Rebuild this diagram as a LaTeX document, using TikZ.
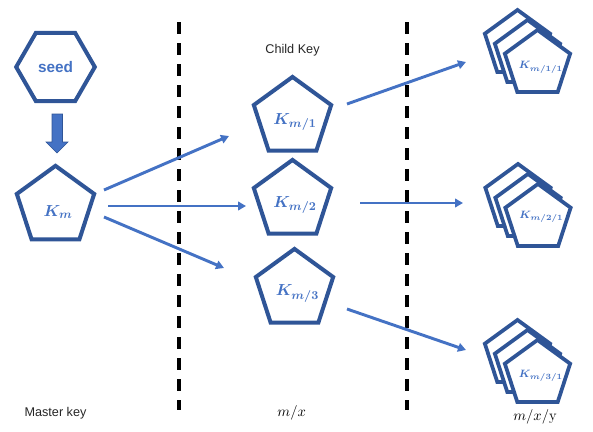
\documentclass[tikz,border=0pt]{standalone}
\usepackage{fontspec}
\newfontfamily\sansf{Liberation Sans}
\usepackage{bm}
\DeclareMathSizes{11.5}{11.5}{8.6}{6.5}
\DeclareMathSizes{8}{8}{6.3}{5}
\usetikzlibrary{shapes.geometric,arrows.meta}
\definecolor{kdark}{HTML}{2F5597}
\definecolor{kblue}{HTML}{4472C4}
\begin{document}
\begin{tikzpicture}[x=0.75pt,y=-0.75pt,
  pent/.style={regular polygon, regular polygon sides=5, draw=kdark, line width=3pt, fill=white, inner sep=0pt, minimum size=61pt},
  spent/.style={regular polygon, regular polygon sides=5, draw=kdark, line width=2.8pt, fill=white, inner sep=0pt, minimum size=51.5pt},
  hexa/.style={regular polygon, regular polygon sides=6, draw=kdark, line width=3pt, fill=white, inner sep=0pt, minimum size=59pt},
  klabel/.style={text=kblue, font=\fontsize{11.5}{13}\selectfont},
  sklabel/.style={text=kblue, font=\fontsize{8}{10}\selectfont},
  conn/.style={kblue, line width=2.2pt, -{Triangle[length=6pt,width=6.5pt]}},
  divider/.style={black, line width=2.4pt, dash pattern=on 9pt off 6.75pt},
  plain/.style={font=\sansf\fontsize{9.5}{11}\selectfont, text=black!85},
  mlabel/.style={font=\fontsize{11}{13}\selectfont, text=black}]
\useasboundingbox (0,0) rectangle (593,432);

% dividers
\coordinate (d1t) at (179,22);
\coordinate (d1b) at (179,410);
\coordinate (d2t) at (407,22);
\coordinate (d2b) at (407,410);
\draw[divider] (d1t) -- (d1b);
\draw[divider] (d2t) -- (d2b);

% seed and master key
\node[hexa, text=kblue, font=\sansf\fontsize{11.5}{13}\selectfont\bfseries] (seed) at (55.5,67) {seed};
\node[pent, label={[klabel,xshift=1.9pt,yshift=-4.1pt]center:$\bm{K_m}$}] (Km) at (55.5,206.5) {};

% block arrow seed -> Km
\fill[kblue, draw=kdark, line width=0.4pt]
  (52,114) -- (62.5,114) -- (62.5,142) -- (68,142) -- (57,153) -- (46,142) -- (52,142) -- cycle;

% child keys
\node[pent, label={[klabel,xshift=1.9pt,yshift=-3.4pt]center:$\bm{K_{m/1}}$}] (K1) at (292.5,117.6) {};
\node[pent, label={[klabel,xshift=1.9pt,yshift=-3.4pt]center:$\bm{K_{m/2}}$}] (K2) at (292.5,200.6) {};
\node[pent, label={[klabel,xshift=2.2pt,yshift=-3pt]center:$\bm{K_{m/3}}$}] (K3) at (294.5,289.6) {};

% grandchild stacks
\node[spent] (s1c) at (517.5,44.3) {};
\node[spent] (s1b) at (527.5,54.3) {};
\node[spent, label={[sklabel,xshift=2.6pt,yshift=-2.2pt]center:$\bm{K_{m/1/1}}$}] (s1a) at (537.5,64.3) {};

\node[spent] (s2c) at (518,198.3) {};
\node[spent] (s2b) at (528,208.3) {};
\node[spent, label={[sklabel,xshift=2.5pt,yshift=1.1pt]center:$\bm{K_{m/2/1}}$}] (s2a) at (538,218.3) {};

\node[spent] (s3c) at (517.5,354.3) {};
\node[spent] (s3b) at (527.5,364.3) {};
\node[spent, label={[sklabel,xshift=2.5pt,yshift=-1.4pt]center:$\bm{K_{m/3/1}}$}] (s3a) at (537.5,374.3) {};

% connectors
\coordinate (a1s) at (104,190);  \coordinate (a1e) at (229,136);
\coordinate (a2s) at (108,206);  \coordinate (a2e) at (246,206);
\coordinate (a3s) at (104,217);  \coordinate (a3e) at (224,268);
\coordinate (b1s) at (347,104);  \coordinate (b1e) at (466,62);
\coordinate (b2s) at (360,203);  \coordinate (b2e) at (463,203);
\coordinate (b3s) at (347,309);  \coordinate (b3e) at (466,350);
\draw[conn] (a1s) -- (a1e);
\draw[conn] (a2s) -- (a2e);
\draw[conn] (a3s) -- (a3e);
\draw[conn] (b1s) -- (b1e);
\draw[conn] (b2s) -- (b2e);
\draw[conn] (b3s) -- (b3e);

% texts
\node[plain] (childkey) at (292.5,50.5) {Child Key};
\node[plain] (masterkey) at (55.5,413) {Master key};
\node[mlabel] (lmx) at (291.7,413) {$m/x$};
\node[mlabel] (lmxy) at (535,416.7) {$m/x/\mathrm{y}$};
\end{tikzpicture}
\end{document}
